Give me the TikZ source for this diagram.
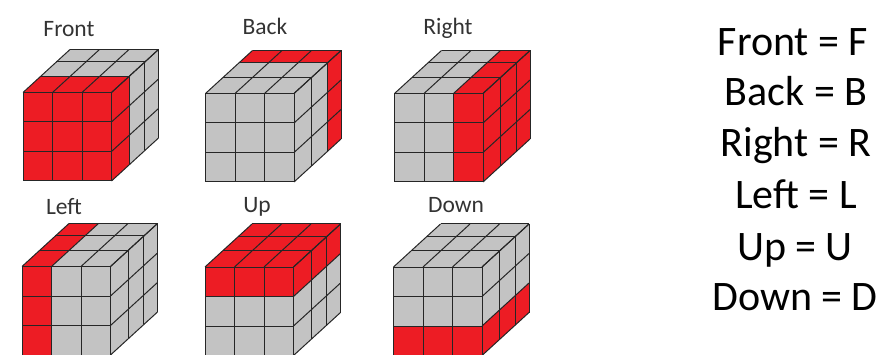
\documentclass[tikz,border=0pt]{standalone}
\usepackage{fontspec}
\setmainfont{Carlito}
\definecolor{cubered}{HTML}{ED1C24}
\definecolor{cubegray}{HTML}{C3C3C3}
% red patches on the three visible faces, in cell units (depth runs 0 to 1)
\newcommand{\redfront}[4]{\fill[cubered] (#1,#3,0) -- (#2,#3,0) -- (#2,#4,0) -- (#1,#4,0) -- cycle;}
\newcommand{\redtop}[4]{\fill[cubered] (#1,3,#3) -- (#2,3,#3) -- (#2,3,#4) -- (#1,3,#4) -- cycle;}
\newcommand{\redside}[4]{\fill[cubered] (3,#3,#1) -- (3,#3,#2) -- (3,#4,#2) -- (3,#4,#1) -- cycle;}
\tikzset{
  pics/rubik/.style={code={
    \begin{scope}[x={(29.5pt,0pt)}, y={(0pt,29.5pt)}, z={(47pt,43pt)}]
      \fill[cubegray] (0,0,0) -- (3,0,0) -- (3,0,1) -- (3,3,1) -- (0,3,1) -- (0,3,0) -- cycle;
      #1
      % grid, front face
      \foreach \i in {0,1,2,3} {
        \draw[gridline] (\i,0,0) -- (\i,3,0);
        \draw[gridline] (0,\i,0) -- (3,\i,0);
        \draw[gridline] (\i,3,0) -- (\i,3,1);
        \draw[gridline] (3,\i,0) -- (3,\i,1);
      }
      % grid, lines along the depth
      \foreach \d in {.38,.71,1} {
        \draw[gridline] (0,3,\d) -- (3,3,\d);
        \draw[gridline] (3,3,\d) -- (3,0,\d);
      }
    \end{scope}
  }},
  gridline/.style={draw=black!85, line width=1pt},
  title/.style={font=\fontsize{23.5}{28}\selectfont, text=black!80, inner sep=0pt, anchor=base},
  entry/.style={font=\fontsize{42}{50}\selectfont, inner sep=0pt, anchor=base},
}
\begin{document}
\begin{tikzpicture}[x=1pt, y=-1pt]
  \useasboundingbox (0,0) rectangle (880,355);

  % ---------------- top row ----------------
  \node[title] (frontT) at (69,37) {Front};
  \pic (frontC) at (23,181) {rubik={\redfront{0}{3}{0}{3}\redtop{0}{3}{0}{.38}\redside{0}{.38}{0}{3}}};
  \node[title] (backT) at (265,35) {Back};
  \pic (backC) at (205.5,182) {rubik={\redtop{0}{3}{.71}{1}\redside{.71}{1}{0}{3}}};
  \node[title] (rightT) at (448,35) {Right};
  \pic (rightC) at (394.5,182) {rubik={\redfront{2}{3}{0}{3}\redtop{2}{3}{0}{1}\redside{0}{1}{0}{3}}};

  % ---------------- bottom row ----------------
  \node[title] (leftT) at (64,215) {Left};
  \pic (leftC) at (22,355) {rubik={\redfront{0}{1}{0}{3}\redtop{0}{1}{0}{1}}};
  \node[title] (upT) at (257,213) {Up};
  \pic (upC) at (205,355.5) {rubik={\redfront{0}{3}{2}{3}\redtop{0}{3}{0}{1}\redside{0}{1}{2}{3}}};
  \node[title] (downT) at (456,213) {Down};
  \pic (downC) at (393.5,355.5) {rubik={\redfront{0}{3}{0}{1}\redside{0}{1}{0}{1}}};

  % ---------------- face letters ----------------
  \node[entry] (frontL) at (793,55.5) {Front = F};
  \node[entry] (backL) at (796,106) {Back = B};
  \node[entry] (rightL) at (796,157) {Right = R};
  \node[entry] (leftL) at (796,209) {Left = L};
  \node[entry] (upL) at (795,260) {Up = U};
  \node[entry] (downL) at (795,310) {Down = D};
\end{tikzpicture}
\end{document}
